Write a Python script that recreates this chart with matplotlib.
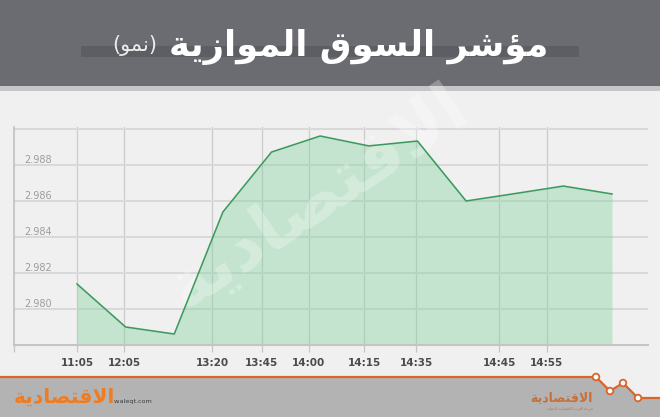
import numpy as np
import matplotlib
matplotlib.use("Agg")
import matplotlib.pyplot as plt
from matplotlib.patches import Rectangle, Polygon, Circle

# ---- data ----
values = [2.98139, 2.97900, 2.97861, 2.98539, 2.98872, 2.98961,
          2.98906, 2.98933, 2.98600, 2.98641, 2.98683, 2.98639]
tick_labels = ["11:05", "12:05", "13:20", "13:45", "14:00",
               "14:15", "14:35", "14:45", "14:55"]
tick_pos = [0.0, 0.97, 2.78, 3.80, 4.76, 5.91, 6.97, 8.68, 9.66]
y_ticks = [2.980, 2.982, 2.984, 2.986, 2.988, 2.990]

TITLE = "مؤشر السوق الموازية"
SUBTITLE = "نمو"
BRAND = "الاقتصادية"
TAGLINE = "جريدة العرب الاقتصادية الدولية"

W, H = 660, 417
BG = "#f0f0f0"
HEADER = "#6b6c71"
ORANGE = "#d9652b"
LINE = "#3d9a5e"

# ---- tiny arabic shaper (matplotlib has no complex text layout) ----
# isolated, final, initial, medial
FORMS = {
    "ا": ("\uFE8D", "\uFE8E", None, None),
    "ؤ": ("\uFE85", "\uFE86", None, None),
    "ب": ("\uFE8F", "\uFE90", "\uFE91", "\uFE92"),
    "ة": ("\uFE93", "\uFE94", None, None),
    "ت": ("\uFE95", "\uFE96", "\uFE97", "\uFE98"),
    "ج": ("\uFE9D", "\uFE9E", "\uFE9F", "\uFEA0"),
    "د": ("\uFEA9", "\uFEAA", None, None),
    "ر": ("\uFEAD", "\uFEAE", None, None),
    "ز": ("\uFEAF", "\uFEB0", None, None),
    "س": ("\uFEB1", "\uFEB2", "\uFEB3", "\uFEB4"),
    "ش": ("\uFEB5", "\uFEB6", "\uFEB7", "\uFEB8"),
    "ص": ("\uFEB9", "\uFEBA", "\uFEBB", "\uFEBC"),
    "ع": ("\uFEC9", "\uFECA", "\uFECB", "\uFECC"),
    "ق": ("\uFED5", "\uFED6", "\uFED7", "\uFED8"),
    "ل": ("\uFEDD", "\uFEDE", "\uFEDF", "\uFEE0"),
    "م": ("\uFEE1", "\uFEE2", "\uFEE3", "\uFEE4"),
    "ن": ("\uFEE5", "\uFEE6", "\uFEE7", "\uFEE8"),
    "و": ("\uFEED", "\uFEEE", None, None),
    "ي": ("\uFEF1", "\uFEF2", "\uFEF3", "\uFEF4"),
    "لا": ("\uFEFB", "\uFEFC", None, None),
}


def shape(text):
    # merge lam-alef into one unit first
    units = []
    i = 0
    while i < len(text):
        if text[i] == "ل" and i + 1 < len(text) and text[i + 1] == "ا":
            units.append("لا")
            i += 2
        else:
            units.append(text[i])
            i += 1
    out = []
    for k, u in enumerate(units):
        if u not in FORMS:
            out.append(u)
            continue
        prev = units[k - 1] if k > 0 else None
        nxt = units[k + 1] if k + 1 < len(units) else None
        join_prev = prev in FORMS and FORMS[prev][2] is not None
        join_next = FORMS[u][2] is not None and nxt in FORMS
        iso, fin, ini, med = FORMS[u]
        if join_prev and join_next:
            out.append(med)
        elif join_prev:
            out.append(fin)
        elif join_next:
            out.append(ini)
        else:
            out.append(iso)
    return "".join(out)[::-1]


plt.rcParams["font.family"] = ["DejaVu Sans"]

fig = plt.figure(figsize=(W / 100, H / 100), dpi=100)
fig.patch.set_facecolor(BG)

# background layer in pixel coords
bg = fig.add_axes([0, 0, 1, 1], zorder=0)
bg.set_xlim(0, W)
bg.set_ylim(H, 0)
bg.axis("off")
bg.add_patch(Rectangle((0, 0), W, 86, color=HEADER, lw=0))
bg.add_patch(Rectangle((0, 86), W, 5, color="#c6c6c8", lw=0))
bg.add_patch(Rectangle((81, 46), 498, 11, color="#5d5e63", lw=0))

zig_x = [0, 596, 610, 623, 638, 660]
zig_y = [377, 377, 391, 383, 398, 398]
bg.add_patch(Polygon(list(zip(zig_x, zig_y)) + [(W, H), (0, H)],
                     closed=True, color="#b3b3b3", lw=0))
bg.plot(zig_x, zig_y, color=ORANGE, lw=1.6, solid_joinstyle="round")
for cx, cy in zip(zig_x[1:5], zig_y[1:5]):
    bg.add_patch(Circle((cx, cy), 3.3, facecolor="white", edgecolor=ORANGE, lw=1.3, zorder=3))

# title
fig.text(548 / W, 1 - 47 / H, shape(TITLE), color="white", fontsize=25.5,
         fontweight="bold", ha="right", va="center")
fig.text(157 / W, 1 - 46 / H, "(" + shape(SUBTITLE) + ")", color="#ececec",
         fontsize=15, ha="right", va="center")

# footer logos
fig.text(14 / W, 1 - 397 / H, shape(BRAND), color="#f07c22", fontsize=14.5,
         fontweight="bold", ha="left", va="center")
fig.text(114 / W, 1 - 401 / H, "w.aleqt.com", color="#3c3c3c", fontsize=4.6,
         ha="left", va="center")
fig.text(593 / W, 1 - 398 / H, shape(BRAND), color="#c8703a", fontsize=9,
         fontweight="bold", ha="right", va="center")
fig.text(593 / W, 1 - 408 / H, shape(TAGLINE), color="#c8703a", fontsize=2.6,
         ha="right", va="center")

# ---- chart ----
ax = fig.add_axes([14 / W, 72 / H, 634 / W, 218 / H], zorder=2)
ax.set_facecolor("none")
x = np.arange(len(values))
ax.fill_between(x, values, 2.978, color="#7ed39d", alpha=0.38, lw=0, zorder=2)
ax.plot(x, values, color=LINE, lw=1.15, zorder=3)

# watermark
ax.text(4.95, 2.9862, shape(BRAND), transform=ax.transData, color="white",
        alpha=0.28, fontsize=50, fontweight="bold", rotation=34,
        ha="center", va="center", zorder=2.5)

ax.set_xlim(-1.295, 11.74)
ax.set_ylim(2.978, 2.978 + 218 / 18000)
ax.set_xticks(tick_pos)
ax.set_xticklabels(tick_labels)
ax.set_xticks([-1.295], minor=True)
ax.set_yticks(y_ticks)
ax.tick_params(axis="y", length=0, labelleft=False)
ax.tick_params(axis="x", which="both", direction="out", length=5,
               width=0.9, color="#c4c4c4", pad=4,
               labelsize=7.5, labelcolor="#4a4a4a")
for lbl in ax.get_xticklabels():
    lbl.set_fontweight("semibold")

ax.grid(axis="y", color="#d9d9d9", lw=1.5, zorder=1)
ax.grid(axis="x", color="#cbcbcb", lw=0.9, zorder=1)
ax.set_axisbelow(True)

for s in ("top", "right"):
    ax.spines[s].set_visible(False)
ax.spines["left"].set_color("#bdbdbd")
ax.spines["left"].set_linewidth(1.1)
ax.spines["bottom"].set_color("#c4c4c4")
ax.spines["bottom"].set_linewidth(1.5)

for v in y_ticks[:-1]:
    ax.annotate(f"{v:.3f}", xy=(10 / 634, v), xycoords=("axes fraction", "data"),
                xytext=(0, 3.8), textcoords="offset points", color="#9d9d9d",
                fontsize=7, ha="left", va="center")

fig.savefig("out.png", dpi=100, facecolor=fig.get_facecolor())
